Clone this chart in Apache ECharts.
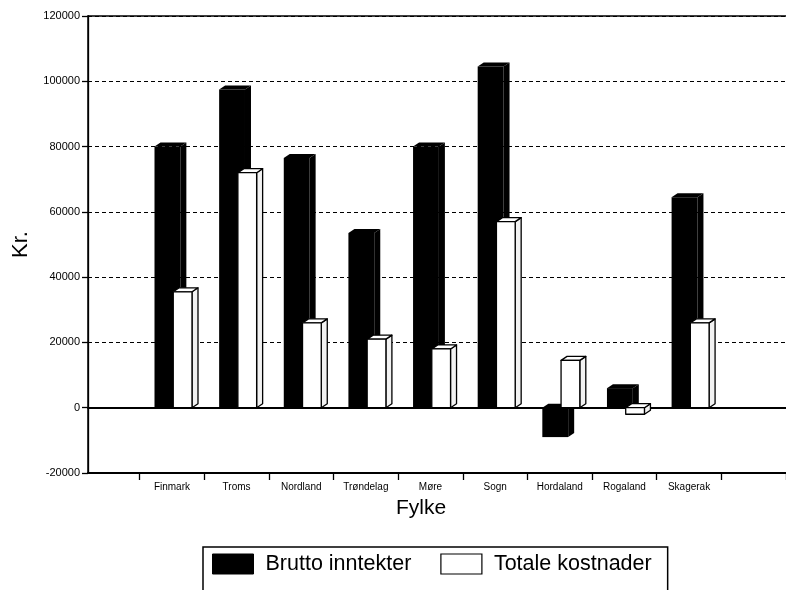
<!DOCTYPE html>
<html>
<head>
<meta charset="utf-8">
<script src="https://cdn.jsdelivr.net/npm/echarts@6/dist/echarts.min.js"></script>
<style>
html,body{margin:0;padding:0;background:#fff;}
#chart{width:786px;height:590px;}
</style>
</head>
<body>
<div id="chart"></div>
<script>
// ---- data ----
const categories = ['Finmark','Troms','Nordland','Trøndelag','Møre','Sogn','Hordaland','Rogaland','Skagerak'];
const bruttoInntekter = [80000, 97500, 76500, 53500, 80000, 104500, -9000, 6000, 64500];
const totaleKostnader = [35500, 72000, 26000, 21000, 18000, 57000, 14500, -2000, 26000];
const yTicks = [-20000, 0, 20000, 40000, 60000, 80000, 100000, 120000];
const seriesNames = ['Brutto inntekter', 'Totale kostnader'];

// padded category slots (empty slot at each end of the floor)
const slots = [''].concat(categories, ['']);
const toData = arr => arr.map((v, i) => [i + 1, v]);

const DX = 6, DY = 4;
function makeRender(f0, f1, fill, stroke, sideFill) {
  return function (params, api) {
    const idx = api.value(0), v = api.value(1);
    const b = api.coord([idx, 0]);
    const t = api.coord([idx, v]);
    const bw = api.size([1, 0])[0];
    const left = b[0] - bw / 2;
    const x0 = left + bw * f0, x1 = left + bw * f1;
    const ytop = Math.min(b[1], t[1]), ybot = Math.max(b[1], t[1]);
    const st = {fill: fill, stroke: stroke, lineWidth: stroke ? 1.3 : 0, lineJoin: 'round'};
    return {
      type: 'group',
      children: [
        {type: 'polygon', shape: {points: [[x1, ytop], [x1 + DX, ytop - DY], [x1 + DX, ybot - DY], [x1, ybot]]}, style: Object.assign({}, st, {fill: sideFill})},
        {type: 'polygon', shape: {points: [[x0, ytop], [x0 + DX, ytop - DY], [x1 + DX, ytop - DY], [x1, ytop]]}, style: st},
        {type: 'rect', shape: {x: x0, y: ytop, width: x1 - x0, height: ybot - ytop}, style: st}
      ]
    };
  };
}

const chart = echarts.init(document.getElementById('chart'), null, {renderer: 'canvas'});
const FONT = "'Liberation Sans', Arial, sans-serif";
const TOP = 16, BOTTOM = 590 - 473;

chart.setOption({
  backgroundColor: '#fff',
  animation: false,
  title: {
    text: 'Fylke', left: 391, top: 493,
    textStyle: {fontFamily: FONT, fontSize: 21, fontWeight: 'normal', color: '#000'}
  },
  legend: {
    left: 203, top: 547,
    orient: 'horizontal',
    borderColor: '#000', borderWidth: 1.5,
    padding: [6, 16, 20, 9],
    itemWidth: 41, itemHeight: 20, itemGap: 29,
    textStyle: {fontFamily: FONT, fontSize: 21.5, color: '#000', padding: [0, 0, 0, 7]},
    data: [
      {name: seriesNames[0], icon: 'rect', itemStyle: {color: '#000', borderColor: '#000', borderWidth: 1}},
      {name: seriesNames[1], icon: 'rect', itemStyle: {color: '#fff', borderColor: '#000', borderWidth: 1.2}}
    ]
  },
  grid: [
    {left: 75, right: -6, top: TOP, bottom: BOTTOM},
    {left: 88, right: 0, top: TOP, bottom: BOTTOM}
  ],
  xAxis: [
    {
      gridIndex: 0, type: 'category', data: slots, boundaryGap: true,
      axisLine: {show: false, onZero: false},
      axisTick: {show: true, length: 7, lineStyle: {color: '#000', width: 1.3},
        interval: (i) => i > 0},
      axisLabel: {fontFamily: FONT, fontSize: 10, color: '#000', margin: 9, interval: 0},
      splitLine: {show: false}
    },
    {
      gridIndex: 1, type: 'value', min: 0, max: 1, position: 'bottom',
      axisLine: {show: true, onZero: true, lineStyle: {color: '#000', width: 2}},
      axisTick: {show: false}, axisLabel: {show: false}, splitLine: {show: false}
    },
    {
      gridIndex: 1, type: 'value', min: 0, max: 1, position: 'top',
      axisLine: {show: true, onZero: false, lineStyle: {color: '#000', width: 1.5}},
      axisTick: {show: false}, axisLabel: {show: false}, splitLine: {show: false}
    },
    {
      gridIndex: 1, type: 'value', min: 0, max: 1, position: 'bottom',
      axisLine: {show: true, onZero: false, lineStyle: {color: '#000', width: 2}},
      axisTick: {show: false}, axisLabel: {show: false}, splitLine: {show: false}
    }
  ],
  yAxis: [
    {
      gridIndex: 0, type: 'value', min: yTicks[0], max: yTicks[yTicks.length - 1], interval: 20000,
      show: false, splitLine: {show: false}
    },
    {
      gridIndex: 1, type: 'value', min: yTicks[0], max: yTicks[yTicks.length - 1], interval: 20000,
      name: 'Kr.', nameLocation: 'middle', nameRotate: 90, nameGap: 54,
      nameTextStyle: {fontFamily: FONT, fontSize: 22, color: '#000'},
      axisLine: {show: true, lineStyle: {color: '#000', width: 1.5}},
      axisTick: {show: true, length: 6, lineStyle: {color: '#000', width: 1.3}},
      axisLabel: {fontFamily: FONT, fontSize: 11, color: '#000', margin: 8,
        formatter: v => yTicks.indexOf(v) >= 0 ? String(v) : ''},
      splitLine: {show: true, lineStyle: {color: '#000', width: 1.2, type: [4, 3]}}
    },
    {
      gridIndex: 1, type: 'value', min: yTicks[0], max: yTicks[yTicks.length - 1], interval: 20000,
      offset: 5,
      axisLine: {show: true, lineStyle: {color: '#000', width: 1.3}},
      axisTick: {show: false}, axisLabel: {show: false}, splitLine: {show: false}
    }
  ],
  series: [
    {
      name: seriesNames[0], type: 'custom', xAxisIndex: 0, yAxisIndex: 0,
      itemStyle: {color: '#000'},
      renderItem: makeRender(0.23, 0.63, '#000', null, '#000'),
      data: toData(bruttoInntekter), z: 3
    },
    {
      name: seriesNames[1], type: 'custom', xAxisIndex: 0, yAxisIndex: 0,
      itemStyle: {color: '#fff', borderColor: '#000'},
      renderItem: makeRender(0.52, 0.81, '#fff', '#000', '#f2f2f2'),
      data: toData(totaleKostnader), z: 4
    }
  ]
});
</script>
</body>
</html>
